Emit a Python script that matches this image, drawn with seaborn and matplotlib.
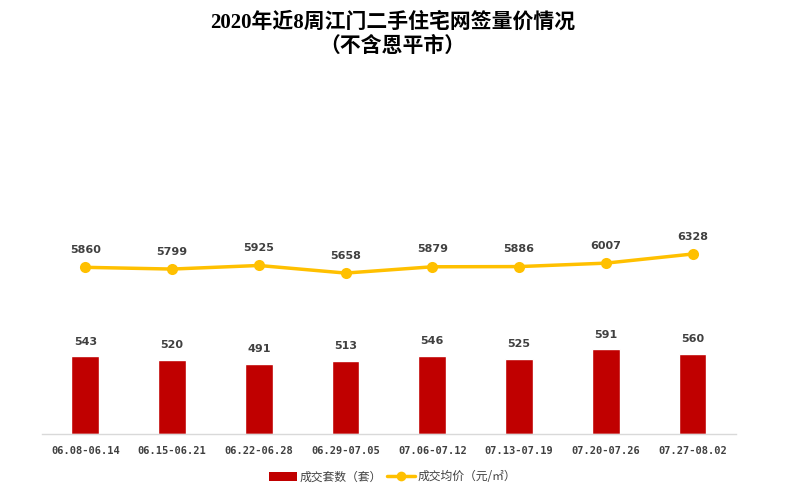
import matplotlib
matplotlib.use('Agg')
import matplotlib.pyplot as plt
import seaborn as sns
import numpy as np
import pandas as pd
from matplotlib.patches import Patch
from matplotlib.lines import Line2D

sns.set_theme(style='white')
plt.rcParams['font.family'] = ['Noto Sans CJK SC', 'DejaVu Sans']

weeks = ['06.08-06.14', '06.15-06.21', '06.22-06.28', '06.29-07.05',
         '07.06-07.12', '07.13-07.19', '07.20-07.26', '07.27-08.02']
deals = [543, 520, 491, 513, 546, 525, 591, 560]
price = [5860, 5799, 5925, 5658, 5879, 5886, 6007, 6328]

bar_color = '#C00000'
line_color = '#FFC000'
txt_color = '#404040'

df = pd.DataFrame({'week': weeks, 'deals': deals, 'price': price})

fig = plt.figure(figsize=(7.85, 4.96), dpi=100)
ax = fig.add_axes([0.0535, 0.125, 0.884, 0.734])

sns.barplot(data=df, x='week', y='deals', color=bar_color, width=0.32,
            saturation=1, ax=ax)
ax.set_ylim(0, 2545)
ax.set_xlim(-0.5, 7.5)
for i, v in enumerate(deals):
    ax.annotate(str(v), (i, v), xytext=(0, 7), textcoords='offset points',
                ha='center', va='bottom', fontsize=8, fontweight='bold',
                color=txt_color, family=['DejaVu Sans'])

ax2 = ax.twinx()
sns.lineplot(x=np.arange(len(weeks)), y=df['price'], color=line_color,
             linewidth=2.5, marker='o', markersize=8, markeredgewidth=0, ax=ax2)
ax2.set_ylim(0, 12800)
ax2.set_xlim(-0.5, 7.5)
for i, v in enumerate(price):
    ax2.annotate(str(v), (i, v), xytext=(0, 9), textcoords='offset points',
                 ha='center', va='bottom', fontsize=8, fontweight='bold',
                 color=txt_color, family=['DejaVu Sans'])

for a in (ax, ax2):
    a.set_ylabel('')
    a.set_yticks([])
    for s in ['top', 'right', 'left', 'bottom']:
        a.spines[s].set_visible(False)
ax.spines['bottom'].set_visible(True)
ax.spines['bottom'].set_color('#D9D9D9')
ax.spines['bottom'].set_linewidth(1)
ax.set_xlabel('')
ax.tick_params(axis='x', length=0, pad=9, labelsize=7.5, labelcolor=txt_color)
for lbl in ax.get_xticklabels():
    lbl.set_family(['DejaVu Sans Mono'])
    lbl.set_fontweight('bold')

title_fam = ['Liberation Serif', 'Noto Sans CJK SC']
fig.text(0.5, 0.955, '2020年近8周江门二手住宅网签量价情况', ha='center', va='center',
         fontsize=15, fontweight='bold', color='black', family=title_fam)
fig.text(0.5, 0.905, '（不含恩平市）', ha='center', va='center',
         fontsize=15, fontweight='bold', color='black', family=title_fam)

handles = [Patch(facecolor=bar_color, edgecolor='none'),
           Line2D([0], [0], color=line_color, linewidth=2.5, marker='o',
                  markersize=7, markeredgewidth=0)]
fig.legend(handles, ['成交套数（套）', '成交均价（元/㎡）'], loc='center',
           bbox_to_anchor=(0.5, 1 - 477 / 496), ncol=2, frameon=False,
           fontsize=8.5, handlelength=2.4, handletextpad=0.2, columnspacing=0.4,
           labelcolor=txt_color)

fig.savefig('out.png', dpi=100)
